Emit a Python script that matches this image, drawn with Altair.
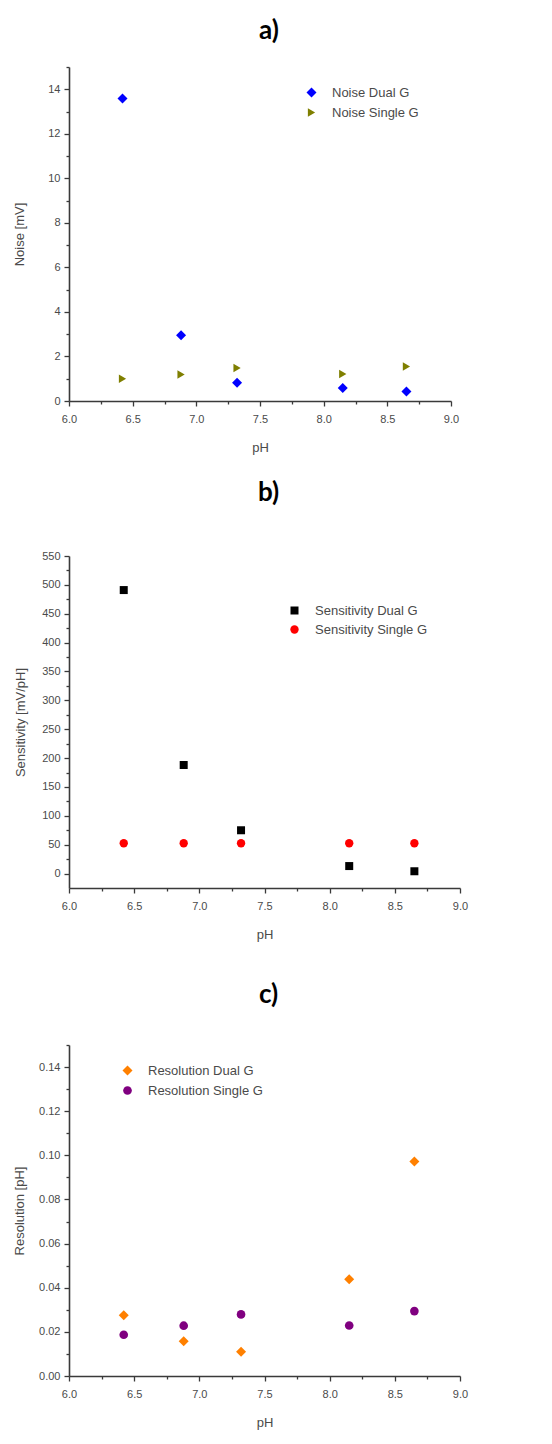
import altair as alt
import pandas as pd

# ---- data ----
ph = [6.42, 6.88, 7.32, 8.15, 8.65]

noise_dual = [13.58, 2.95, 0.82, 0.58, 0.43]
noise_single = [1.00, 1.19, 1.48, 1.21, 1.55]

sens_dual = [491, 188, 75, 13, 4]
sens_single = [52.6, 52.6, 52.6, 52.6, 52.6]

res_dual = [0.0275, 0.0157, 0.0110, 0.0438, 0.0972]
res_single = [0.0187, 0.0228, 0.0279, 0.0229, 0.0294]

x_ticks = [6.0, 6.25, 6.5, 6.75, 7.0, 7.25, 7.5, 7.75, 8.0, 8.25, 8.5, 8.75, 9.0]
noise_ticks = [0, 1, 2, 3, 4, 5, 6, 7, 8, 9, 10, 11, 12, 13, 14, 15]
sens_ticks = [0, 25, 50, 75, 100, 125, 150, 175, 200, 225, 250, 275, 300, 325,
              350, 375, 400, 425, 450, 475, 500, 525, 550]
res_ticks = [0.0, 0.01, 0.02, 0.03, 0.04, 0.05, 0.06, 0.07, 0.08, 0.09, 0.10,
             0.11, 0.12, 0.13, 0.14, 0.15]

AX = dict(domainColor="#3a3a3a", domainWidth=1.6, tickColor="#3a3a3a", tickWidth=1.3,
          labelColor="#4a4a4a", labelFontSize=11, labelFont="Liberation Sans",
          titleColor="#4a4a4a", titleFontSize=13, titleFont="Liberation Sans",
          titleFontWeight="normal", grid=False, labelOverlap=False, labelFlush=False)


def make_axis(title, values, major_test, label_fmt, orient, title_pad):
    return alt.Axis(
        title=title, values=values, orient=orient,
        labelExpr=f"({major_test}) ? format(datum.value, '{label_fmt}') : ''",
        tickSize={"condition": {"test": major_test, "value": 5}, "value": 3},
        labelPadding=7 if orient == "bottom" else 4,
        titlePadding=title_pad,
        **AX,
    )


def frame(vals_dual, vals_single, names):
    return pd.DataFrame({
        "pH": ph + ph,
        "value": vals_dual + vals_single,
        "series": [names[0]] * len(ph) + [names[1]] * len(ph),
    })


def panel(letter, df, names, colors, shapes, sizes, y_title, y_dom, y_vals,
          y_major, y_fmt, leg_x, leg_y, w, h, t_off, t_dx, y_pad):
    x_enc = alt.X("pH:Q", scale=alt.Scale(domain=[6.0, 9.0], nice=False, zero=False),
                  axis=make_axis("pH", x_ticks, "round(datum.value*4)%2==0", ".1f",
                                 "bottom", 17))
    y_enc = alt.Y("value:Q", scale=alt.Scale(domain=y_dom, nice=False, zero=False),
                  axis=make_axis(y_title, y_vals, y_major, y_fmt, "left", y_pad))
    return alt.Chart(df, title=alt.Title(
        letter, fontSize=26, fontWeight="bold", font="Lato", color="#000000",
        anchor="middle", frame="group", offset=t_off, dx=t_dx)).mark_point(
        filled=True, opacity=1).encode(
        x=x_enc, y=y_enc,
        color=alt.Color("series:N", scale=alt.Scale(domain=names, range=colors),
                        legend=alt.Legend(title=None, orient="none", legendX=leg_x,
                                          legendY=leg_y, labelFontSize=13,
                                          labelFont="Liberation Sans", labelColor="#4a4a4a",
                                          symbolSize=70, rowPadding=4, labelOffset=14,
                                          padding=0, symbolOpacity=1)),
        shape=alt.Shape("series:N", scale=alt.Scale(domain=names, range=shapes)),
        size=alt.Size("series:N", scale=alt.Scale(domain=names, range=sizes), legend=None),
    ).properties(width=w, height=h)


names_a = ["Noise Dual G", "Noise Single G"]
names_b = ["Sensitivity Dual G", "Sensitivity Single G"]
names_c = ["Resolution Dual G", "Resolution Single G"]

a = panel("a)", frame(noise_dual, noise_single, names_a), names_a,
          ["#0000ff", "#7f7f00"], ["diamond", "triangle-right"], [100, 70],
          "Noise [mV]", [0, 15], noise_ticks, "round(datum.value)%2==0", ".0f",
          236, 19, 382, 334, 17, 9, 21)
b = panel("b)", frame(sens_dual, sens_single, names_b), names_b,
          ["#000000", "#ff0000"], ["square", "circle"], [64, 70],
          "Sensitivity [mV/pH]", [-25, 550], sens_ticks, "round(datum.value)%50==0", ".0f",
          219, 48, 391, 332, 44, 4, 14)
c = panel("c)", frame(res_dual, res_single, names_c), names_c,
          ["#ff8000", "#800080"], ["diamond", "circle"], [100, 75],
          "Resolution [pH]", [0, 0.15], res_ticks, "round(datum.value*100)%2==0", ".2f",
          52, 19, 391, 331, 31, 4, 12)

top = alt.vconcat(a, b, spacing=26).resolve_scale(
    color="independent", shape="independent", size="independent")

chart = alt.vconcat(top, c, spacing=41).resolve_scale(
    color="independent", shape="independent", size="independent"
).properties(
    background="#ffffff", padding={"top": 10, "left": 5, "right": 5, "bottom": 5}
).configure_view(stroke=None)

chart.save("out.html", embed_options={"renderer": "svg", "actions": False})
